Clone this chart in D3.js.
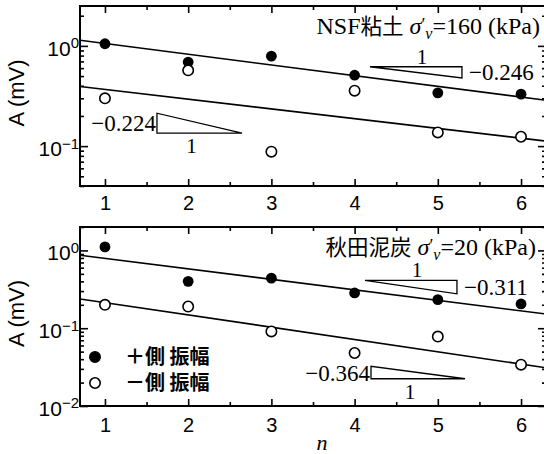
<!DOCTYPE html>
<html><head><meta charset="utf-8">
<script src="https://cdn.jsdelivr.net/npm/d3@7"></script>
<style>
body{margin:0;background:#fff;}
svg{display:block;}
</style></head>
<body>
<script>
// ---- data ----
const nVals = [1, 2, 3, 4, 5, 6];
const nsfPlus   = [1.05, 0.69, 0.79, 0.51, 0.34, 0.33];
const nsfMinus  = [0.30, 0.57, 0.088, 0.357, 0.137, 0.124];
const akitaPlus  = [1.11, 0.40, 0.44, 0.284, 0.233, 0.205];
const akitaMinus = [0.20, 0.19, 0.091, 0.048, 0.078, 0.034];
// fit A = a * exp(b n): [a, b]
const nsfFitPlus = [1.35, -0.246];
const nsfFitMinus = [0.46, -0.224];
const akitaFitPlus = [1.08, -0.311];
const akitaFitMinus = [0.307, -0.364];
// slope triangles: [n0, n1, Ahigh, Alow, label]
const nsfTriPlus = [4.185, 5.29, 0.619, 0.478, "\u22120.246"];
const nsfTriMinus = [1.625, 2.647, 0.213, 0.1346, "\u22120.224"];
const akitaTriPlus = [4.125, 5.23, 0.413, 0.277, "\u22120.311"];
const akitaTriMinus = [4.197, 5.327, 0.0324, 0.0224, "\u22120.364"];
const xTicks = [1, 2, 3, 4, 5, 6];
const xMinorTicks = [1.5, 2.5, 3.5, 4.5, 5.5];
const nsfYTicks = [0.1, 1];
const akitaYTicks = [0.01, 0.1, 1];
const legendLabels = ["\uFF0B\u5074 \u632F\u5E45", "\uFF0D\u5074 \u632F\u5E45"];
const nsfTitle = ["NSF", "\u7C98\u571F", "=160 (kPa)"];
const akitaTitle = ["", "\u79CB\u7530\u6CE5\u70AD", "=20 (kPa)"];

const W = 544, H = 454;
const svg = d3.select("body").append("svg").attr("width", W).attr("height", H);

const sans = "'Liberation Sans', Arial, sans-serif";
const serif = "'Liberation Serif', 'Times New Roman', serif";
const cjk = "'Noto Sans CJK JP', sans-serif";

function minorTicks(domain) {
  const out = [];
  const lo = Math.floor(Math.log10(domain[0])), hi = Math.ceil(Math.log10(domain[1]));
  for (let k = lo; k <= hi; k++) for (let m = 2; m <= 9; m++) {
    const v = m * Math.pow(10, k);
    if (v >= domain[0] && v <= domain[1]) out.push(v);
  }
  return out;
}

function panel(cfg) {
  const x = d3.scaleLinear().domain([0.7, 6.3]).range([80, 546]);
  const y = d3.scaleLog().domain(cfg.yDomain).range(cfg.yRange);
  const g = svg.append("g");
  const clipId = "clip" + cfg.id;
  svg.append("clipPath").attr("id", clipId).append("rect")
    .attr("x", 80).attr("y", cfg.yRange[1]).attr("width", 466).attr("height", cfg.yRange[0] - cfg.yRange[1]);

  const [yb, yt] = cfg.yRange;
  const styleAxis = sel => {
    sel.select(".domain").remove();
    sel.selectAll("line").attr("stroke", "#000").attr("stroke-width", 1.6);
  };
  // bottom axis
  const bx = g.append("g").attr("transform", `translate(0,${yb})`)
    .call(d3.axisBottom(x).tickValues(xTicks).tickSize(-7).tickPadding(cfg.xPad).tickFormat(d3.format("d")));
  styleAxis(bx);
  bx.selectAll("text").attr("font-family", sans).attr("font-size", 20).attr("fill", "#000");
  styleAxis(g.append("g").attr("transform", `translate(0,${yb})`)
    .call(d3.axisBottom(x).tickValues(xMinorTicks).tickSize(-4).tickFormat("")));
  // top axis
  styleAxis(g.append("g").attr("transform", `translate(0,${yt})`)
    .call(d3.axisTop(x).tickValues(xTicks).tickSize(-7).tickFormat("")));
  styleAxis(g.append("g").attr("transform", `translate(0,${yt})`)
    .call(d3.axisTop(x).tickValues(xMinorTicks).tickSize(-4).tickFormat("")));
  // left axis
  const ly = g.append("g").attr("transform", "translate(80,0)")
    .call(d3.axisLeft(y).tickValues(cfg.yTicks).tickSize(-8).tickPadding(1).tickFormat(() => "10"));
  styleAxis(ly);
  ly.selectAll("text").attr("font-family", sans).attr("font-size", 21).attr("fill", "#000")
    .attr("dy", "0.45em")
    .each(function(d) {
      const t = d3.select(this);
      const e = Math.round(Math.log10(d));
      t.text("10");
      t.append("tspan").attr("dy", "-0.5em").attr("font-size", 15)
        .text(e === 0 ? "0" : "\u2212" + Math.abs(e));
    });
  styleAxis(g.append("g").attr("transform", "translate(80,0)")
    .call(d3.axisLeft(y).tickValues(minorTicks(cfg.yDomain)).tickSize(-4).tickFormat("")));
  // right axis
  styleAxis(g.append("g").attr("transform", "translate(546,0)")
    .call(d3.axisRight(y).tickValues(cfg.yTicks).tickSize(-8).tickFormat("")));
  styleAxis(g.append("g").attr("transform", "translate(546,0)")
    .call(d3.axisRight(y).tickValues(minorTicks(cfg.yDomain)).tickSize(-4).tickFormat("")));
  // frame
  g.append("rect").attr("x", 80).attr("y", yt).attr("width", 466).attr("height", yb - yt)
    .attr("fill", "none").attr("stroke", "#000").attr("stroke-width", 2);

  // y label
  g.append("text").attr("transform", `translate(24,${(yt + yb) / 2 - 3}) rotate(-90)`)
    .attr("text-anchor", "middle").attr("font-family", sans).attr("font-size", 22)
    .text("A (mV)");

  // fit lines
  const line = d3.line().x(d => x(d[0])).y(d => y(d[1]));
  [cfg.fitPlus, cfg.fitMinus].forEach(f => {
    const pts = x.domain().map(n => [n, f[0] * Math.exp(f[1] * n)]);
    g.append("path").attr("d", line(pts)).attr("fill", "none").attr("stroke", "#000")
      .attr("stroke-width", 1.6).attr("clip-path", `url(#${clipId})`);
  });

  // points
  g.selectAll(null).data(nVals.map((n, i) => [n, cfg.plus[i]])).join("circle")
    .attr("cx", d => x(d[0])).attr("cy", d => y(d[1])).attr("r", 5.4).attr("fill", "#000");
  g.selectAll(null).data(nVals.map((n, i) => [n, cfg.minus[i]])).join("circle")
    .attr("cx", d => x(d[0])).attr("cy", d => y(d[1])).attr("r", 5.2).attr("fill", "#fff")
    .attr("stroke", "#000").attr("stroke-width", 1.6);

  // slope triangles
  function tri(t, type) {
    const [n0, n1, ah, al, lab] = t;
    const x0 = x(n0), x1 = x(n1), y0 = y(ah), y1 = y(al);
    const pts = type === "upper" ? [[x0, y0], [x1, y0], [x1, y1]] : [[x0, y0], [x0, y1], [x1, y1]];
    g.append("path").attr("d", d3.line()(pts) + "Z").attr("fill", "none").attr("stroke", "#000").attr("stroke-width", 1.3);
    if (type === "upper") {
      g.append("text").attr("x", (x0 + x1) / 2 + 6).attr("y", y0 - 3).attr("text-anchor", "middle")
        .attr("font-family", serif).attr("font-size", 21).text("1");
      g.append("text").attr("x", x1 + 7).attr("y", (y0 + y1) / 2 + 8).attr("font-family", serif)
        .attr("font-size", 23).text(lab);
    } else {
      g.append("text").attr("x", x0 - 1).attr("y", (y0 + y1) / 2 + 8).attr("text-anchor", "end")
        .attr("font-family", serif).attr("font-size", 23).text(lab);
      g.append("text").attr("x", (x0 + x1) / 2 - 8).attr("y", y1 + 20).attr("text-anchor", "middle")
        .attr("font-family", serif).attr("font-size", 21).text("1");
    }
  }
  tri(cfg.triPlus, "upper");
  tri(cfg.triMinus, "lower");

  // title
  const tt = g.append("text").attr("x", cfg.titleX).attr("y", cfg.titleY).attr("text-anchor", "end")
    .attr("font-family", serif).attr("font-size", 24);
  if (cfg.title[0]) tt.append("tspan").text(cfg.title[0]);
  tt.append("tspan").attr("font-family", cjk).attr("font-size", 21.5).text(cfg.title[1]);
  tt.append("tspan").text(" ");
  tt.append("tspan").attr("font-style", "italic").text("\u03C3");
  tt.append("tspan").attr("font-size", 18).attr("dy", -3).text("\u2032");
  tt.append("tspan").attr("font-style", "italic").attr("font-size", 16).attr("dy", 8).text("v");
  tt.append("tspan").attr("dy", -5).text(cfg.title[2]);
  return {x, y, g};
}

const p1 = panel({id: 1, yDomain: [0.04, 2.5], yRange: [186, 6], yTicks: nsfYTicks, xPad: 10,
  plus: nsfPlus, minus: nsfMinus, fitPlus: nsfFitPlus, fitMinus: nsfFitMinus,
  triPlus: nsfTriPlus, triMinus: nsfTriMinus, title: nsfTitle, titleX: 540, titleY: 34});

const p2 = panel({id: 2, yDomain: [0.01, 2], yRange: [406, 227], yTicks: akitaYTicks, xPad: 12,
  plus: akitaPlus, minus: akitaMinus, fitPlus: akitaFitPlus, fitMinus: akitaFitMinus,
  triPlus: akitaTriPlus, triMinus: akitaTriMinus, title: akitaTitle, titleX: 536, titleY: 255});

// legend (bottom panel)
const lg = p2.g.append("g");
legendLabels.forEach((lab, i) => {
  const cy = 357 + i * 26;
  lg.append("circle").attr("cx", 95).attr("cy", cy).attr("r", 5.2)
    .attr("fill", i === 0 ? "#000" : "#fff").attr("stroke", "#000").attr("stroke-width", 1.6);
  lg.append("text").attr("x", 125).attr("y", cy + 7).attr("font-family", cjk).attr("font-weight", 700)
    .attr("font-size", 20).text(lab);
});

// x label
svg.append("text").attr("x", 322).attr("y", 450).attr("text-anchor", "middle")
  .attr("font-family", serif).attr("font-style", "italic").attr("font-size", 22).text("n");
</script>
</body></html>
